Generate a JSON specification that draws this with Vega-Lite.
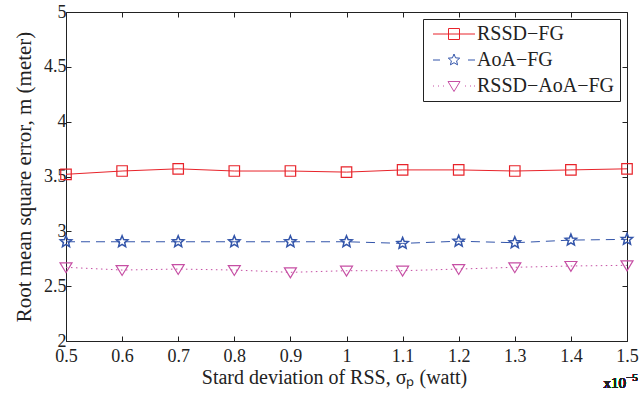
{
  "$schema": "https://vega.github.io/schema/vega-lite/v6.json",
  "width": 561,
  "height": 329,
  "autosize": {"type": "none"},
  "padding": {"left": 66, "top": 12, "right": 12, "bottom": 60},
  "background": "white",
  "config": {
    "font": "Liberation Serif, Times New Roman, serif",
    "view": {"stroke": null},
    "text": {"font": "Liberation Serif, Times New Roman, serif"},
    "axis": {
      "labelFont": "Liberation Serif, Times New Roman, serif",
      "titleFont": "Liberation Serif, Times New Roman, serif",
      "labelFontSize": 18,
      "titleFontSize": 20,
      "titleFontWeight": "normal",
      "labelColor": "#222222",
      "titleColor": "#222222",
      "domainColor": "#222222",
      "tickColor": "#222222",
      "grid": false,
      "tickSize": -5,
      "domainWidth": 1,
      "tickWidth": 1,
      "labelFlush": false,
      "labelOverlap": false
    },
    "legend": {
      "orient": "top-right",
      "offset": 7,
      "padding": 5,
      "strokeColor": "#222222",
      "fillColor": "white",
      "labelFont": "Liberation Serif, Times New Roman, serif",
      "labelFontSize": 20,
      "labelColor": "#222222",
      "symbolSize": 100,
      "symbolStrokeWidth": 1,
      "labelOffset": 29,
      "rowPadding": 6,
      "labelLimit": 300
    }
  },
  "data": {
    "values": [
      {"x": 0.5, "series": "RSSD−FG", "rmse": 3.52},
      {"x": 0.6, "series": "RSSD−FG", "rmse": 3.55},
      {"x": 0.7, "series": "RSSD−FG", "rmse": 3.57},
      {"x": 0.8, "series": "RSSD−FG", "rmse": 3.55},
      {"x": 0.9, "series": "RSSD−FG", "rmse": 3.55},
      {"x": 1.0, "series": "RSSD−FG", "rmse": 3.54},
      {"x": 1.1, "series": "RSSD−FG", "rmse": 3.56},
      {"x": 1.2, "series": "RSSD−FG", "rmse": 3.56},
      {"x": 1.3, "series": "RSSD−FG", "rmse": 3.55},
      {"x": 1.4, "series": "RSSD−FG", "rmse": 3.56},
      {"x": 1.5, "series": "RSSD−FG", "rmse": 3.57},
      {"x": 0.5, "series": "AoA−FG", "rmse": 2.905},
      {"x": 0.6, "series": "AoA−FG", "rmse": 2.905},
      {"x": 0.7, "series": "AoA−FG", "rmse": 2.905},
      {"x": 0.8, "series": "AoA−FG", "rmse": 2.905},
      {"x": 0.9, "series": "AoA−FG", "rmse": 2.905},
      {"x": 1.0, "series": "AoA−FG", "rmse": 2.905},
      {"x": 1.1, "series": "AoA−FG", "rmse": 2.89},
      {"x": 1.2, "series": "AoA−FG", "rmse": 2.91},
      {"x": 1.3, "series": "AoA−FG", "rmse": 2.896},
      {"x": 1.4, "series": "AoA−FG", "rmse": 2.92},
      {"x": 1.5, "series": "AoA−FG", "rmse": 2.927},
      {"x": 0.5, "series": "RSSD−AoA−FG", "rmse": 2.672},
      {"x": 0.6, "series": "RSSD−AoA−FG", "rmse": 2.647},
      {"x": 0.7, "series": "RSSD−AoA−FG", "rmse": 2.656},
      {"x": 0.8, "series": "RSSD−AoA−FG", "rmse": 2.647},
      {"x": 0.9, "series": "RSSD−AoA−FG", "rmse": 2.626},
      {"x": 1.0, "series": "RSSD−AoA−FG", "rmse": 2.641},
      {"x": 1.1, "series": "RSSD−AoA−FG", "rmse": 2.641},
      {"x": 1.2, "series": "RSSD−AoA−FG", "rmse": 2.656},
      {"x": 1.3, "series": "RSSD−AoA−FG", "rmse": 2.672},
      {"x": 1.4, "series": "RSSD−AoA−FG", "rmse": 2.684},
      {"x": 1.5, "series": "RSSD−AoA−FG", "rmse": 2.69}
    ]
  },
  "layer": [
    {
      "transform": [{"filter": {"field": "series", "equal": "RSSD−FG"}}],
      "mark": {"type": "line", "color": "#e8232a", "strokeWidth": 1},
      "encoding": {
        "x": {
          "field": "x", "type": "quantitative",
          "scale": {"domain": [0.5, 1.5], "nice": false, "zero": false},
          "axis": {
            "values": [0.5, 0.6, 0.7, 0.8, 0.9, 1, 1.1, 1.2, 1.3, 1.4, 1.5],
            "format": "~g",
            "title": "Stard deviation of RSS, σₚ (watt)",
            "labelPadding": 11,
            "titlePadding": 2,
            "titleX": 268
          }
        },
        "y": {
          "field": "rmse", "type": "quantitative",
          "scale": {"domain": [2, 5], "nice": false, "zero": false},
          "axis": {
            "values": [2, 2.5, 3, 3.5, 4, 4.5, 5],
            "format": "~g",
            "title": "Root mean square error, m (meter)",
            "titleFontSize": 21,
            "labelPadding": 5,
            "titlePadding": 9
          }
        }
      }
    },
    {
      "transform": [{"filter": {"field": "series", "equal": "AoA−FG"}}],
      "mark": {"type": "line", "color": "#3355aa", "strokeWidth": 1, "strokeDash": [9, 6]},
      "encoding": {
        "x": {"field": "x", "type": "quantitative", "axis": null},
        "y": {"field": "rmse", "type": "quantitative", "axis": null}
      }
    },
    {
      "transform": [{"filter": {"field": "series", "equal": "RSSD−AoA−FG"}}],
      "mark": {"type": "line", "color": "#c64fa4", "strokeWidth": 1, "strokeDash": [1.5, 3.5]},
      "encoding": {
        "x": {"field": "x", "type": "quantitative", "axis": null},
        "y": {"field": "rmse", "type": "quantitative", "axis": null}
      }
    },
    {
      "transform": [{"filter": {"field": "series", "equal": "RSSD−FG"}}],
      "mark": {"type": "point", "shape": "square", "size": 110, "filled": false, "color": "#e8232a", "strokeWidth": 1.2, "opacity": 1},
      "encoding": {
        "x": {"field": "x", "type": "quantitative", "axis": null},
        "y": {"field": "rmse", "type": "quantitative", "axis": null}
      }
    },
    {
      "transform": [{"filter": {"field": "series", "equal": "AoA−FG"}}],
      "mark": {"type": "point", "shape": "M0,-1L0.26,-0.36L0.95,-0.31L0.43,0.14L0.59,0.81L0,0.45L-0.59,0.81L-0.43,0.14L-0.95,-0.31L-0.26,-0.36Z", "size": 144, "filled": false, "color": "#3355aa", "strokeWidth": 1.5, "opacity": 1},
      "encoding": {
        "x": {"field": "x", "type": "quantitative", "axis": null},
        "y": {"field": "rmse", "type": "quantitative", "axis": null}
      }
    },
    {
      "transform": [{"filter": {"field": "series", "equal": "RSSD−AoA−FG"}}],
      "mark": {"type": "point", "shape": "M-1,-0.75H1L0,0.9Z", "size": 144, "filled": false, "color": "#c64fa4", "strokeWidth": 1.2, "opacity": 1},
      "encoding": {
        "x": {"field": "x", "type": "quantitative", "axis": null},
        "y": {"field": "rmse", "type": "quantitative", "axis": null}
      }
    },
    {
      "mark": {"type": "point", "filled": false, "opacity": 0},
      "encoding": {
        "x": {
          "field": "x", "type": "quantitative",
          "axis": {"orient": "top", "labels": false, "title": null, "values": [0.5, 0.6, 0.7, 0.8, 0.9, 1, 1.1, 1.2, 1.3, 1.4, 1.5]}
        },
        "y": {
          "field": "rmse", "type": "quantitative",
          "axis": {"orient": "right", "labels": false, "title": null, "values": [2, 2.5, 3, 3.5, 4, 4.5, 5]}
        },
        "color": {
          "field": "series", "type": "nominal",
          "scale": {"domain": ["RSSD−FG", "AoA−FG", "RSSD−AoA−FG"], "range": ["#e8232a", "#3355aa", "#c64fa4"]},
          "legend": {"title": null, "symbolOpacity": 1}
        },
        "shape": {
          "field": "series", "type": "nominal",
          "scale": {
            "domain": ["RSSD−FG", "AoA−FG", "RSSD−AoA−FG"],
            "range": [
              "M-1,0H7.4M2.1,-1.1H4.3V1.1H2.1Z",
              "M-1,0H0.4M6,0H7.4M3.2,-1.2L3.51,-0.43L4.34,-0.37L3.72,0.17L3.91,0.97L3.2,0.54L2.49,0.97L2.68,0.17L2.06,-0.37L2.89,-0.43Z",
              "M-1,0H-0.8M0,0H0.2M1,0H1.2M5.4,0H5.6M6.4,0H6.6M7.2,0H7.4M2,-0.9H4.4L3.2,1.1Z"
            ]
          },
          "legend": {"title": null, "symbolOpacity": 1}
        }
      }
    },
    {
      "mark": {"type": "text", "text": "x10", "fontSize": 15, "align": "right", "baseline": "alphabetic", "dx": -1, "dy": 47, "color": "#222222", "font": "Liberation Serif, Times New Roman, serif"},
      "encoding": {
        "x": {"datum": 1.5, "type": "quantitative", "axis": null},
        "y": {"datum": 2, "type": "quantitative", "axis": null}
      }
    },
    {
      "mark": {"type": "text", "text": "−5", "fontSize": 11, "align": "left", "baseline": "alphabetic", "dx": -1, "dy": 40, "color": "#222222", "font": "Liberation Serif, Times New Roman, serif"},
      "encoding": {
        "x": {"datum": 1.5, "type": "quantitative", "axis": null},
        "y": {"datum": 2, "type": "quantitative", "axis": null}
      }
    }
  ],
  "resolve": {"axis": {"x": "independent", "y": "independent"}}
}
